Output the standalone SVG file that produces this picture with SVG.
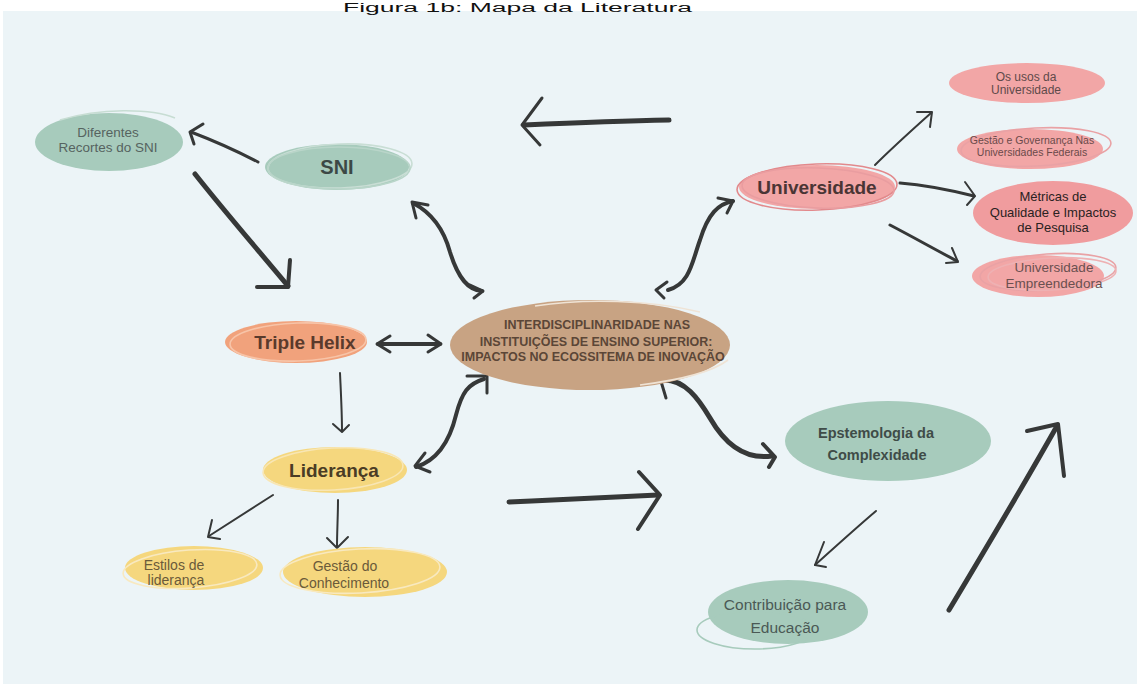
<svg xmlns="http://www.w3.org/2000/svg" width="1137" height="684" viewBox="0 0 1137 684">
  <style>
    .title{font-family:"Liberation Sans",Arial,sans-serif;font-size:12px;fill:#111}
    .t{font-family:"Liberation Sans",Arial,sans-serif;text-anchor:middle}
    .b{font-weight:bold}
    .green{fill:#a7cbbc}
    .pink{fill:#f2a6a6}
    .pink2{fill:#f09c9e}
    .orange{fill:#f1a27c}
    .yellow{fill:#f5d77e}
    .tan{fill:#c8a383}
    .ring{fill:none;stroke-width:1.6}
    .ln{fill:none;stroke:#363838;stroke-linecap:round;stroke-linejoin:round}
    .w5{stroke-width:5}
    .w4{stroke-width:4}
    .w3{stroke-width:3}
    .w2{stroke-width:2}
  </style>

  <!-- canvas panel -->
  <rect x="3" y="11" width="1134" height="673" fill="#ecf4f7"/>
  <!-- caption above the panel -->
  <text class="title" x="343" y="11.5" textLength="349" lengthAdjust="spacingAndGlyphs">Figura 1b: Mapa da Literatura</text>

  <!-- connectors -->
  <g id="connectors">
    <!-- top arrow pointing left -->
    <path class="ln w5" d="M669 120 C620 121 570 123 524 125"/>
    <path class="ln w3" d="M542 98 L522 125 L540 145"/>
    <!-- SNI <-> centre -->
    <path class="ln w4" d="M413 203 C432 213 444 230 450 252 C458 278 468 290 482 291"/>
    <path class="ln w3" d="M416 218 L412 202 L428 205"/>
    <path class="ln w3" d="M470 285 L483 291 L474 298"/>
    <!-- Universidade <-> centre -->
    <path class="ln w4" d="M668 290 C690 284 692 262 700 240 C708 214 718 204 733 201"/>
    <path class="ln w3" d="M667 282 L656 290 L664 298"/>
    <path class="ln w3" d="M718 198 L733 201 L727 213"/>
    <!-- SNI -> Diferentes -->
    <path class="ln w3" d="M258 162 C235 150 212 140 191 132"/>
    <path class="ln w3" d="M203 124 L190 132 L194 144"/>
    <!-- Diferentes -> Triple Helix -->
    <path class="ln w5" d="M195 174 C225 212 258 250 288 286"/>
    <path class="ln w4" d="M290 260 L288 287 L257 287"/>
    <!-- Triple Helix <-> centre -->
    <path class="ln w4" d="M378 344 L440 344"/>
    <path class="ln w3" d="M390 336 L377 344 L390 352"/>
    <path class="ln w3" d="M428 335 L441 344 L428 352"/>
    <!-- Triple Helix -> Lideranca -->
    <path class="ln w2" d="M340 373 C341 395 342 413 342 431"/>
    <path class="ln w2" d="M333 424 L342 432 L349 425"/>
    <!-- Lideranca <-> centre -->
    <path class="ln w4" d="M416 467 C438 460 450 440 456 415 C462 392 468 384 484 379"/>
    <path class="ln w3" d="M425 453 L415 466 L430 472"/>
    <path class="ln w3" d="M467 376 L487 376 L487 393"/>
    <!-- centre -> Epstemologia -->
    <path class="ln w5" d="M664 380 C685 380 698 398 710 418 C725 444 745 460 772 456"/>
    <path class="ln w3" d="M677 378 L660 378 L666 398"/>
    <path class="ln w4" d="M763 444 L775 457 L769 467"/>
    <!-- long arrow to the right -->
    <path class="ln w5" d="M509 502 C560 500 612 497 658 495"/>
    <path class="ln w4" d="M639 472 L660 495 L638 529"/>
    <!-- Epstemologia -> Contribuicao -->
    <path class="ln w2" d="M876 511 C856 528 835 547 815 565"/>
    <path class="ln w2" d="M824 542 L815 565 L826 567"/>
    <!-- big diagonal arrow -->
    <path class="ln w5" d="M949 610 C985 550 1022 488 1057 426"/>
    <path class="ln w4" d="M1027 431 L1058 424 L1064 476"/>
    <!-- Universidade -> sub-topics -->
    <path class="ln w2" d="M875 165 C893 147 912 130 931 113"/>
    <path class="ln w2" d="M917 112 L932 112 L930 127"/>
    <path class="ln w3" d="M900 183 C925 185 950 190 974 196"/>
    <path class="ln w2" d="M965 182 L975 196 L967 205"/>
    <path class="ln w3" d="M890 225 C913 237 936 250 957 261"/>
    <path class="ln w2" d="M952 248 L958 262 L946 263"/>
    <!-- Lideranca -> sub-topics -->
    <path class="ln w2" d="M273 495 C251 509 229 523 209 536"/>
    <path class="ln w2" d="M212 520 L208 537 L220 539"/>
    <path class="ln w2" d="M338 500 C338 516 337 531 337 547"/>
    <path class="ln w2" d="M327 538 L337 548 L348 537"/>
  </g>

  <g id="node-diferentes">
    <ellipse class="green" cx="109" cy="142" rx="74" ry="29"/>
    <path class="ring" stroke="#c7ddd3" d="M60 120 C100 108 150 108 175 118"/>
    <text class="t" x="108" y="137" font-size="13.5" fill="#566360">Diferentes</text>
    <text class="t" x="108" y="152" font-size="13.5" fill="#566360">Recortes do SNI</text>
  </g>

  <g id="node-sni">
    <ellipse class="green" cx="337" cy="167" rx="72" ry="23"/>
    <ellipse class="ring" stroke="#c9ded5" cx="340" cy="166" rx="72" ry="22" transform="rotate(-2 340 166)"/>
    <ellipse class="ring" stroke="#b9d5c9" cx="339" cy="168" rx="71" ry="21"/>
    <text class="t b" x="337" y="174" font-size="20" fill="#3c4845">SNI</text>
  </g>

  <g id="node-universidade">
    <ellipse class="pink" cx="817" cy="187" rx="78" ry="22"/>
    <ellipse class="ring" stroke="#e2898c" cx="817" cy="187" rx="80" ry="23" transform="rotate(-2 817 187)"/>
    <ellipse class="ring" stroke="#e99da0" cx="818" cy="188" rx="76" ry="20" transform="rotate(2 818 188)"/>
    <text class="t b" x="817" y="194" font-size="19" fill="#4a3535">Universidade</text>
  </g>

  <g id="node-usos">
    <ellipse class="pink" cx="1027" cy="83" rx="78" ry="20"/>
    <text class="t" x="1026" y="81" font-size="12" fill="#5f4a4a">Os usos da</text>
    <text class="t" x="1026" y="94" font-size="12" fill="#5f4a4a">Universidade</text>
  </g>

  <g id="node-gestao-governanca">
    <ellipse class="pink" cx="1030" cy="149" rx="73" ry="20"/>
    <ellipse class="ring" stroke="#e9a2a5" cx="1036" cy="147" rx="75" ry="19" transform="rotate(-3 1036 147)"/>
    <text class="t" x="1032" y="144" font-size="10.5" fill="#6a4a4a">Gestão e Governança Nas</text>
    <text class="t" x="1032" y="156" font-size="10.5" fill="#6a4a4a">Universidades Federais</text>
  </g>

  <g id="node-metricas">
    <ellipse class="pink2" cx="1053" cy="213" rx="80" ry="32"/>
    <text class="t" x="1053" y="201" font-size="13" fill="#2a2222">Métricas de</text>
    <text class="t" x="1053" y="217" font-size="13" fill="#2a2222">Qualidade e Impactos</text>
    <text class="t" x="1053" y="232" font-size="13" fill="#2a2222">de Pesquisa</text>
  </g>

  <g id="node-empreendedora">
    <ellipse class="pink" cx="1038" cy="276" rx="66" ry="21"/>
    <ellipse class="ring" stroke="#e9a2a5" cx="1048" cy="272" rx="68" ry="18" transform="rotate(-4 1048 272)"/>
    <ellipse class="ring" stroke="#eeb1b3" cx="1052" cy="274" rx="64" ry="16" transform="rotate(-3 1052 274)"/>
    <text class="t" x="1054" y="272" font-size="13.5" fill="#6a5050">Universidade</text>
    <text class="t" x="1054" y="288" font-size="13.5" fill="#6a5050">Empreendedora</text>
  </g>

  <g id="node-central">
    <ellipse class="tan" cx="590" cy="345" rx="140" ry="45"/>
    <path class="ring" stroke="#efe3d5" stroke-width="2" d="M535 306 C585 298 650 300 700 312"/>
    <path class="ring" stroke="#efe3d5" stroke-width="2" d="M640 385 C680 380 712 372 728 360"/>
    <text class="t b" x="597" y="329" font-size="12.5" fill="#5b4637">INTERDISCIPLINARIDADE  NAS</text>
    <text class="t b" x="596" y="346" font-size="12.5" fill="#5b4637">INSTITUIÇÕES DE ENSINO  SUPERIOR:</text>
    <text class="t b" x="593" y="361" font-size="12.5" fill="#5b4637">IMPACTOS NO ECOSSITEMA DE INOVAÇÃO</text>
  </g>

  <g id="node-triple-helix">
    <ellipse class="orange" cx="296" cy="342" rx="71" ry="21"/>
    <ellipse class="ring" stroke="#f7c4a8" cx="298" cy="342" rx="68" ry="19" transform="rotate(-2 298 342)"/>
    <text class="t b" x="305" y="349" font-size="19" fill="#5a3a2c">Triple Helix</text>
  </g>

  <g id="node-lideranca">
    <ellipse class="yellow" cx="335" cy="470" rx="72" ry="23"/>
    <ellipse class="ring" stroke="#f8e6b4" cx="333" cy="469" rx="70" ry="21" transform="rotate(-3 333 469)"/>
    <text class="t b" x="334" y="477" font-size="19" fill="#4a3c25">Liderança</text>
  </g>

  <g id="node-estilos">
    <ellipse class="yellow" cx="194" cy="568" rx="69" ry="22"/>
    <ellipse class="ring" stroke="#f8e9c0" cx="190" cy="569" rx="67" ry="19" transform="rotate(-4 190 569)"/>
    <text class="t" x="174" y="570" font-size="14" fill="#6a5a3a">Estilos de</text>
    <text class="t" x="176" y="585" font-size="14" fill="#6a5a3a">liderança</text>
  </g>

  <g id="node-gestao-conhecimento">
    <ellipse class="yellow" cx="365" cy="572" rx="82" ry="25"/>
    <ellipse class="ring" stroke="#f8e9c0" cx="360" cy="571" rx="80" ry="22" transform="rotate(-3 360 571)"/>
    <text class="t" x="345" y="571" font-size="14" fill="#6a5a3a">Gestão do</text>
    <text class="t" x="344" y="588" font-size="14" fill="#6a5a3a">Conhecimento</text>
  </g>

  <g id="node-epstemologia">
    <ellipse class="green" cx="888" cy="441" rx="103" ry="40"/>
    <text class="t b" x="876" y="438" font-size="14.5" fill="#3f4c48">Epstemologia da</text>
    <text class="t b" x="877" y="460" font-size="14.5" fill="#3f4c48">Complexidade</text>
  </g>

  <g id="node-contribuicao">
    <ellipse class="green" cx="788" cy="612" rx="80" ry="32"/>
    <ellipse class="ring" stroke="#a7cbbc" stroke-width="2" cx="755" cy="630" rx="58" ry="19"/>
    <text class="t" x="785" y="610" font-size="15.5" fill="#4b5955">Contribuição para</text>
    <text class="t" x="785" y="633" font-size="15.5" fill="#4b5955">Educação</text>
  </g>
</svg>
